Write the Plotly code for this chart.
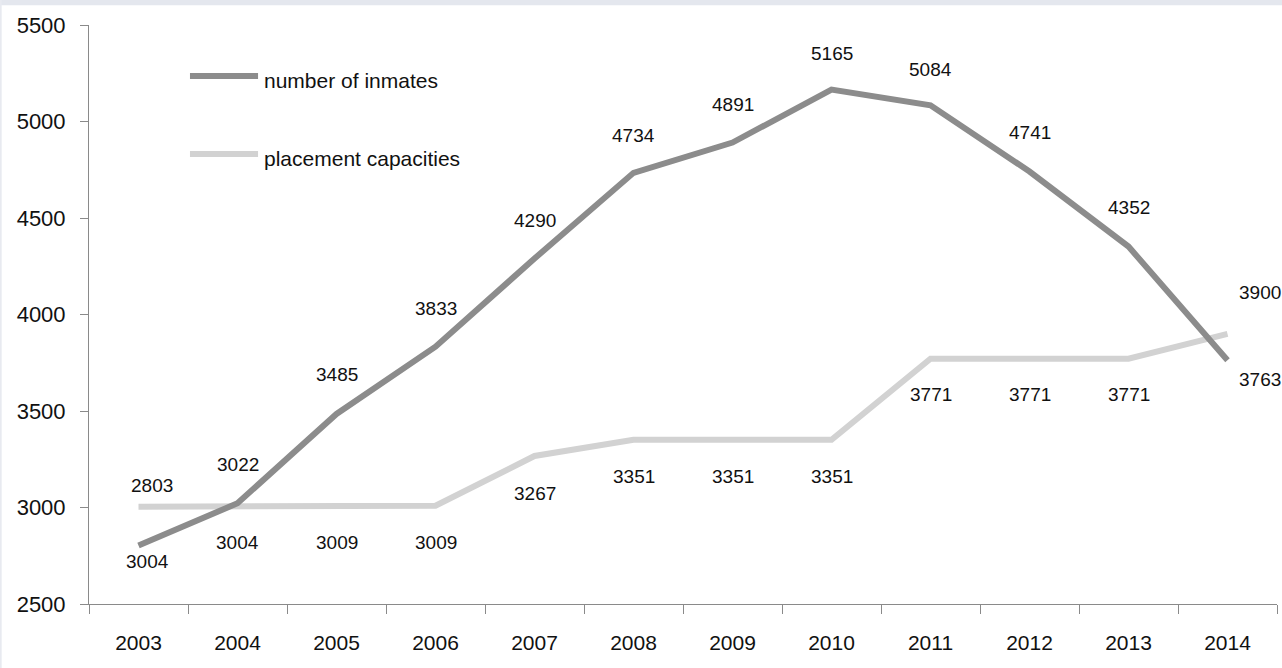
import plotly.graph_objects as go

# ---- data ----
years = ["2003", "2004", "2005", "2006", "2007", "2008", "2009", "2010", "2011", "2012", "2013", "2014"]
inmates = [2803, 3022, 3485, 3833, 4290, 4734, 4891, 5165, 5084, 4741, 4352, 3763]
placement = [3004, 3004, 3009, 3009, 3267, 3351, 3351, 3351, 3771, 3771, 3771, 3900]
# labels as printed in the original chart (first two are swapped there)
inmates_labels = ["3004", "3022", "3485", "3833", "4290", "4734", "4891", "5165", "5084", "4741", "4352", "3763"]
placement_labels = ["2803", "3004", "3009", "3009", "3267", "3351", "3351", "3351", "3771", "3771", "3771", "3900"]
y_ticks = [2500, 3000, 3500, 4000, 4500, 5000, 5500]

# ---- label placement (pixel offsets) ----
inm_yshift = [-16, 39, 39, 38, 38, 37, 38, 36, 36, 39, 39, -19]
inm_xshift = [9, 0, 0, 0, 0, 0, 0, 0, 0, 0, 0, 32]
pl_yshift = [21, -36, -37, -37, -38, -37, -37, -37, -36, -36, -36, 41]
pl_xshift = [13, 0, 0, 0, 0, 0, 0, 0, 0, 0, 0, 32]

C_INM = "#8c8c8c"
C_PL = "#d2d2d2"
FONT = "Liberation Sans"

fig = go.Figure()
fig.add_trace(go.Scatter(x=years, y=placement, mode="lines", line=dict(color=C_PL, width=6),
                         showlegend=False, hoverinfo="skip"))
fig.add_trace(go.Scatter(x=years, y=inmates, mode="lines", line=dict(color=C_INM, width=6),
                         showlegend=False, hoverinfo="skip"))

ann = []
for i, yr in enumerate(years):
    ann.append(dict(x=i, y=inmates[i], xref="x", yref="y", text=inmates_labels[i], showarrow=False,
                    yshift=inm_yshift[i], xshift=inm_xshift[i], font=dict(size=19, color="#111", family=FONT)))
    ann.append(dict(x=i, y=placement[i], xref="x", yref="y", text=placement_labels[i], showarrow=False,
                    yshift=pl_yshift[i], xshift=pl_xshift[i], font=dict(size=19, color="#111", family=FONT)))

# legend (drawn manually)
ann.append(dict(x=0.1456, y=0.905, xref="paper", yref="paper", text="number of inmates", showarrow=False,
                xanchor="left", yanchor="middle", font=dict(size=21, color="#111", family=FONT)))
ann.append(dict(x=0.1456, y=0.770, xref="paper", yref="paper", text="placement capacities", showarrow=False,
                xanchor="left", yanchor="middle", font=dict(size=21, color="#111", family=FONT)))
shapes = [
    dict(type="line", xref="paper", yref="paper", x0=0.085, x1=0.1423, y0=0.912, y1=0.912,
         line=dict(color=C_INM, width=6)),
    dict(type="line", xref="paper", yref="paper", x0=0.085, x1=0.1423, y0=0.777, y1=0.777,
         line=dict(color=C_PL, width=6)),
    # faint frame strips of the original slide background
    dict(type="rect", xref="paper", yref="paper", x0=-0.08, x1=1.01, y0=1.034, y1=1.05,
         line=dict(width=0), fillcolor="#e4e7ee", layer="below"),
    dict(type="rect", xref="paper", yref="paper", x0=-0.08, x1=-0.0735, y0=-0.12, y1=1.05,
         line=dict(width=0), fillcolor="#e8eaf0", layer="below"),
]

fig.update_layout(
    width=1282, height=668,
    margin=dict(l=89, r=5, t=25, b=64),
    paper_bgcolor="white", plot_bgcolor="white",
    font=dict(family=FONT, color="#111"),
    annotations=ann, shapes=shapes,
    xaxis=dict(type="category", range=[-0.5, 11.5], showgrid=False, showline=True, linecolor="#8a8a8a",
               linewidth=1, ticks="outside", tickson="boundaries", ticklen=9, tickcolor="#8a8a8a",
               tickfont=dict(size=21, color="#111"), zeroline=False, ticklabelstandoff=20),
    yaxis=dict(range=[2500, 5500], tickvals=y_ticks, showgrid=False, showline=True, linecolor="#8a8a8a",
               linewidth=1, ticks="outside", ticklen=8, tickcolor="#8a8a8a",
               tickfont=dict(size=22, color="#111"), zeroline=False, ticklabelstandoff=10),
)

fig.write_html("out.html", config={"displayModeBar": False},
               post_script="document.body.style.margin='0';document.body.style.overflow='hidden';")
